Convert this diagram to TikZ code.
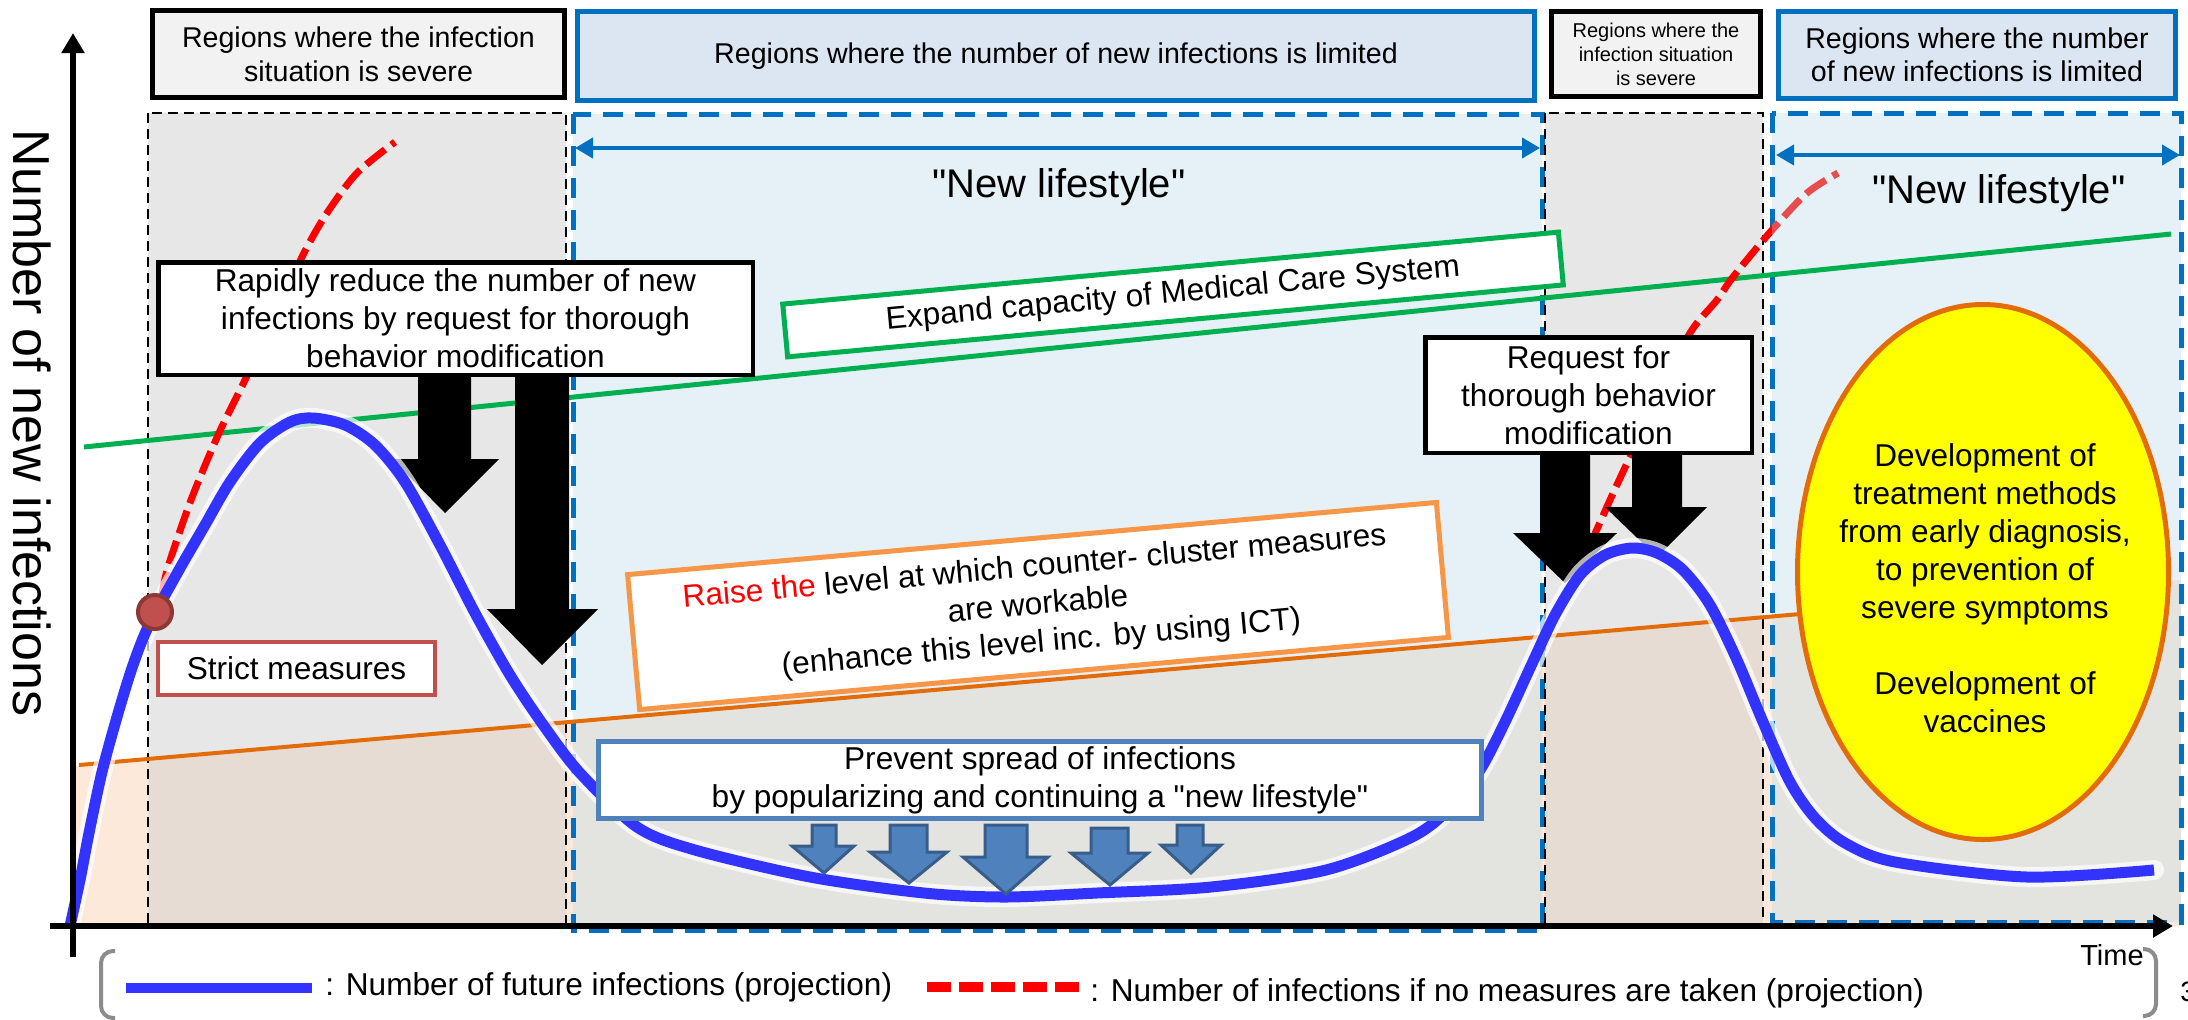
\documentclass[tikz,border=0pt]{standalone}
\usepackage{fontspec}
\setmainfont{Liberation Sans}[Ligatures=TeXOff]
\usetikzlibrary{arrows.meta,shapes.geometric}
\definecolor{cblue}{HTML}{0070C0}
\definecolor{hdrblue}{HTML}{DCE6F2}
\definecolor{hdrgrey}{HTML}{F2F2F2}
\definecolor{regiongrey}{HTML}{D1D1D1}
\definecolor{regionblue}{HTML}{BEDCEB}
\definecolor{peach}{HTML}{FDE9D9}
\definecolor{cgreen}{HTML}{00B050}
\definecolor{corange}{HTML}{E36C09}
\definecolor{boxorange}{HTML}{F79646}
\definecolor{curveblue}{HTML}{3333FF}
\definecolor{cred}{HTML}{FF0000}
\definecolor{lightred}{HTML}{E84C4C}
\definecolor{strictred}{HTML}{C0504D}
\definecolor{circleborder}{HTML}{8C3836}
\definecolor{prevblue}{HTML}{4F81BD}
\definecolor{prevdark}{HTML}{385D8A}
\definecolor{ellyellow}{HTML}{FFFF00}
\definecolor{bracketgrey}{HTML}{8C8C8C}
\begin{document}
\begin{tikzpicture}[x=0.5pt,y=-0.5pt,
  fmain/.style={font=\fontsize{15.8}{19}\selectfont},
  hdrbox/.style={line width=2.6pt, inner sep=0pt, align=center},
  textbox/.style={fmain, fill=white, inner sep=0pt, align=center},
  greyregion/.style={fill=regiongrey, fill opacity=0.5, draw=black, line width=1pt, dash pattern=on 5pt off 3pt},
  blueregion/.style={fill=regionblue, fill opacity=0.4, draw=cblue, line width=2.5pt, dash pattern=on 10pt off 6pt},
  lifearrow/.style={cblue, line width=2pt, {Triangle[length=9pt,width=10pt]}-{Triangle[length=9pt,width=10pt]}},
  blackarrow/.style={fill=black},
  smallarrow/.style={fill=prevblue, draw=prevdark, line width=1.5pt, line join=miter},
  reddash/.style={line width=3.5pt, dash pattern=on 12pt off 4pt},
  axisline/.style={line width=3pt, -{Triangle[length=10pt,width=11pt]}},
]
\useasboundingbox (0,0) rectangle (2188,1019);
\fill[white] (0,0) rectangle (2188,1019);

% lower band below the cluster-measure level
\fill[peach] (75,765.4) -- (2181,580) -- (2181,926) -- (75,926) -- cycle;

% regions
\draw[greyregion] (148,113) rectangle (566,926);
\draw[blueregion] (573,114) rectangle (1542,930);
\draw[greyregion] (1545,113) rectangle (1763,926);
\draw[blueregion] (1772,113) rectangle (2181,922);

% header boxes
\node[hdrbox, draw=black, fill=hdrgrey, minimum width=206pt, minimum height=43.5pt,
  font=\fontsize{14.3}{17}\selectfont] (h1) at (358.5,54) {Regions where the infection\\situation is severe};
\node[hdrbox, draw=cblue, fill=hdrblue, minimum width=478.5pt, minimum height=44.5pt,
  font=\fontsize{14.3}{17}\selectfont] (h2) at (1056,56) {Regions where the number of new infections is limited};
\node[hdrbox, draw=black, fill=hdrgrey, minimum width=104.5pt, minimum height=42.5pt,
  font=\fontsize{10}{12}\selectfont] (h3) at (1656,54) {Regions where the\\infection situation\\is severe};
\node[hdrbox, draw=cblue, fill=hdrblue, minimum width=198.5pt, minimum height=43.5pt,
  font=\fontsize{14.3}{16.5}\selectfont] (h4) at (1977,55) {Regions where the number\\of new infections is limited};

% new lifestyle arrows
\coordinate (nl1a) at (575,148);
\coordinate (nl1b) at (1540,148);
\coordinate (nl2a) at (1776,155);
\coordinate (nl2b) at (2180,155);
\draw[lifearrow] (nl1a) -- (nl1b);
\draw[lifearrow] (nl2a) -- (nl2b);
\node[font=\fontsize{20}{24}\selectfont, anchor=base, inner sep=0pt] (nl1) at (1059,197) {"New lifestyle"};
\node[font=\fontsize{20}{24}\selectfont, anchor=base, inner sep=0pt] (nl2) at (1999,203) {"New lifestyle"};

% level lines
\draw[cgreen, line width=2.5pt] (84,447) -- (2171,234);
\draw[corange, line width=2pt] (79,765) -- (1800,614);

% no-measure curves (red dashed)
\draw[cred, reddash] plot[smooth, tension=0.5] coordinates {(162,595) (168,567) (191,500) (219,433) (245,380) (275,315) (304,253) (327,213) (357,173) (395,142)};
\begin{scope}
\clip (0,0) rectangle (1772,1019);
\draw[cred, reddash] plot[smooth, tension=0.5] coordinates {(1590,545) (1610,500) (1630,457) (1660,395) (1690,333) (1717,300) (1733,277) (1772,230) (1807,193) (1838,173)};
\end{scope}
\begin{scope}
\clip (1772,0) rectangle (2188,1019);
\draw[lightred, reddash] plot[smooth, tension=0.5] coordinates {(1590,545) (1610,500) (1630,457) (1660,395) (1690,333) (1717,300) (1733,277) (1772,230) (1807,193) (1838,173)};
\end{scope}

% black block arrows
\fill[blackarrow] (418,370) -- (471,370) -- (471,459) -- (499,459) -- (445,513) -- (392,459) -- (418,459) -- cycle;
\fill[blackarrow] (515,370) -- (569,370) -- (569,609) -- (598,609) -- (542,665) -- (487,609) -- (515,609) -- cycle;
\fill[blackarrow] (1540,452) -- (1590,452) -- (1590,533) -- (1617,533) -- (1565,583) -- (1513,533) -- (1540,533) -- cycle;
\fill[blackarrow] (1632,452) -- (1682,452) -- (1682,507) -- (1707,507) -- (1657,557) -- (1605,507) -- (1632,507) -- cycle;

% projected curve with white halo
\def\curvepts{(70,926) (80,880) (89,833) (102,772) (117,717) (132,668) (148,627) (179,570) (205,525) (230,482) (260,443) (290,422) (313,418) (345,425) (375,445) (405,482) (440,545) (475,613) (510,675) (544,726) (580,773) (637,827) (695,850) (810,877) (924,893) (1005,897) (1097,893) (1211,887) (1326,870) (1412,837) (1450,808) (1480,770) (1505,722) (1530,668) (1555,615) (1580,575) (1605,555) (1632,548) (1657,553) (1683,570) (1710,605) (1737,660) (1763,722) (1790,782) (1815,818) (1845,843) (1895,862) (2027,877) (2154,870)}
\draw[white, line width=10pt, opacity=0.7, line cap=round, line join=round] plot[smooth, tension=0.5] coordinates {\curvepts};
\draw[curveblue, line width=5.5pt, line join=round] plot[smooth, tension=0.5] coordinates {\curvepts};

% axes
\coordinate (o1) at (50,926);
\coordinate (xend) at (2173,926);
\coordinate (o2) at (73,957);
\coordinate (yend) at (73,33);
\draw[axisline] (o1) -- (xend);
\draw[axisline] (o2) -- (yend);
\node[font=\fontsize{26}{30}\selectfont, rotate=-90, inner sep=0pt] (ylab) at (32,423) {Number of new infections};
\node[font=\fontsize{14.5}{17}\selectfont, anchor=base, inner sep=0pt] (time) at (2112,965) {Time};

% text boxes
\node[textbox, draw=black, line width=2.25pt, minimum width=297.25pt, minimum height=56.25pt] (rapid) at (455.5,318.5)
  {Rapidly reduce the number of new\\infections by request for thorough\\behavior modification};
\node[textbox, draw=black, line width=2.25pt, minimum width=163.25pt, minimum height=57.75pt] (request) at (1588.5,395)
  {Request for\\thorough behavior\\modification};
\node[textbox, draw=strictred, line width=2pt, minimum width=138.5pt, minimum height=26.5pt] (strict) at (296.5,668.5)
  {Strict measures};
\node[textbox, draw=cgreen, line width=2.5pt, minimum width=389.5pt, minimum height=26.5pt, rotate=5.3] (medical) at (1173,294.5)
  {Expand capacity of Medical Care System};
\node[textbox, draw=boxorange, line width=2.5pt, minimum width=406pt, minimum height=67.75pt, rotate=5.1] (cluster) at (1038,606)
  {{\color{red}Raise the} level at which counter- cluster measures\\are workable\\(enhance this level inc. by using ICT)};
\node[textbox, draw=prevblue, line width=2.5pt, minimum width=441.5pt, minimum height=38.5pt] (prevent) at (1040,780)
  {Prevent spread of infections\\by popularizing and continuing a "new lifestyle"};

% start point of strict measures
\node[circle, fill=strictred, draw=circleborder, line width=2pt, minimum size=17pt, inner sep=0pt] (start) at (155,612) {};

% small blue arrows
\draw[smallarrow] (812,825) -- (836,825) -- (836,846) -- (854,846) -- (824,873) -- (792,846) -- (812,846) -- cycle;
\draw[smallarrow] (890,825) -- (927,825) -- (927,852) -- (947,852) -- (909,883) -- (870,852) -- (890,852) -- cycle;
\draw[smallarrow] (985,825) -- (1027,825) -- (1027,857) -- (1048,857) -- (1006,894) -- (963,857) -- (985,857) -- cycle;
\draw[smallarrow] (1091,828) -- (1128,828) -- (1128,853) -- (1148,853) -- (1110,885) -- (1071,853) -- (1091,853) -- cycle;
\draw[smallarrow] (1177,825) -- (1203,825) -- (1203,845) -- (1221,845) -- (1191,873) -- (1161,845) -- (1177,845) -- cycle;

% treatment ellipse
\node[ellipse, draw=corange, line width=2.5pt, fill=ellyellow, minimum width=185.5pt, minimum height=267.5pt, inner sep=0pt] (ell) at (1983,572) {};
\node[fmain, align=center, inner sep=0pt] (elltext) at (1985,588)
  {Development of\\treatment methods\\from early diagnosis,\\to prevention of\\severe symptoms\\[19pt]Development of\\vaccines};

% legend
\draw[bracketgrey, line width=2pt, rounded corners=6pt] (115,951) -- (101,951) -- (101,1018) -- (115,1018);
\draw[bracketgrey, line width=2pt, rounded corners=6pt] (2143,949) -- (2156,949) -- (2156,1016) -- (2143,1016);
\coordinate (lg1a) at (126,988);
\coordinate (lg1b) at (312,988);
\coordinate (lg2a) at (927,987);
\coordinate (lg2b) at (1079,987);
\draw[curveblue, line width=5pt] (lg1a) -- (lg1b);
\draw[cred, line width=5pt, dash pattern=on 12pt off 4pt] (lg2a) -- (lg2b);
\node[fmain, anchor=base west, inner sep=0pt] (lgt1) at (325,995) {: Number of future infections (projection)};
\node[fmain, anchor=base west, inner sep=0pt] (lgt2) at (1090,1001) {: Number of infections if no measures are taken (projection)};
\node[font=\fontsize{14}{17}\selectfont, anchor=base west, inner sep=0pt] (pagenum) at (2180,1001) {3};
\end{tikzpicture}
\end{document}
